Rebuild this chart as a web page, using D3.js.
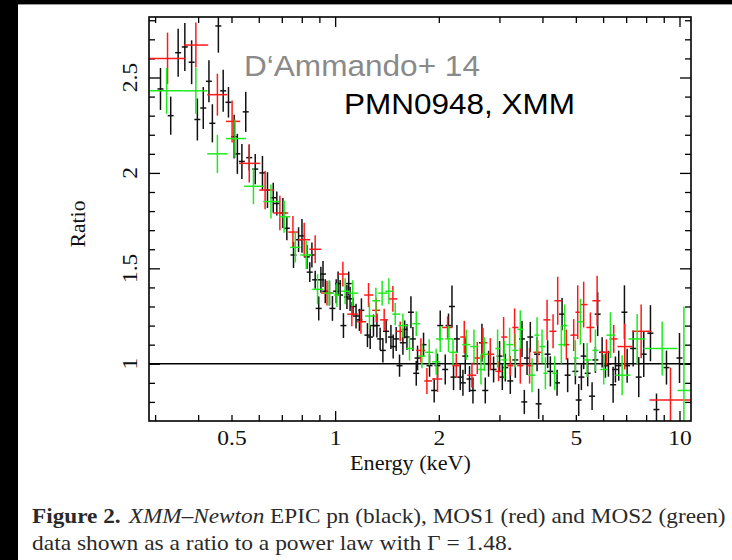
<!DOCTYPE html>
<html>
<head>
<meta charset="utf-8">
<script src="https://cdn.jsdelivr.net/npm/d3@7"></script>
<style>
  html, body { margin: 0; padding: 0; background: #fff; }
  svg { display: block; }
</style>
</head>
<body>
<svg id="chart" width="732" height="560"></svg>
<script>
// EPIC pn (black): bin centre energy (keV), data/model ratio, 1-sigma error
const pnEnergy = [0.311,0.333,0.350,0.366,0.383,0.398,0.414,0.430,0.440,0.458,0.473,0.490,0.509,0.520,0.536,0.550,0.563,0.586,0.615,0.636,0.661,0.677,0.705,0.724,0.757,0.783,0.801,0.828,0.856,0.844,0.875,0.896,0.909,0.922,0.936,0.963,0.982,1.007,1.020,1.034,1.057,1.082,1.095,1.105,1.127,1.150,1.176,1.192,1.241,1.264,1.292,1.322,1.351,1.376,1.406,1.452,1.474,1.504,1.538,1.573,1.592,1.616,1.660,1.682,1.720,1.735,1.806,1.880,1.939,1.983,2.019,2.088,2.134,2.184,2.207,2.258,2.308,2.350,2.387,2.456,2.513,2.669,2.729,2.790,2.885,3.003,3.058,3.120,3.226,3.336,3.489,3.543,3.608,3.688,3.858,3.899,4.141,4.217,4.411,4.560,4.734,4.985,5.097,5.189,5.269,5.413,5.574,5.699,5.787,5.961,6.094,6.218,6.416,6.516,6.661,6.920,7.047,7.335,7.615,7.875,8.236,8.574,9.167,10.00];
const pnRatio = [2.44,2.30,2.63,2.66,2.58,2.28,2.34,2.48,2.26,2.77,2.43,2.37,2.19,2.10,2.06,2.32,2.08,2.02,2.00,1.91,1.87,1.84,1.79,1.71,1.57,1.65,1.67,1.56,1.57,1.48,1.44,1.29,1.44,1.47,1.38,1.37,1.29,1.38,1.42,1.36,1.20,1.35,1.42,1.34,1.30,1.25,1.23,1.28,1.15,1.14,1.20,1.20,1.13,1.07,1.17,1.14,1.09,1.13,0.99,1.11,1.18,1.14,1.27,1.13,0.95,1.03,1.10,0.99,0.86,0.99,1.20,0.97,1.20,1.30,0.93,1.13,0.93,0.90,1.04,0.92,0.86,1.11,0.86,1.00,0.97,1.04,0.93,0.98,0.91,1.02,1.13,0.80,1.03,1.14,1.05,0.79,1.05,0.96,0.90,1.26,0.94,0.96,0.81,0.93,1.04,0.95,0.83,1.02,1.26,1.06,0.99,1.00,0.89,0.97,0.99,1.27,0.99,1.08,0.93,1.05,1.16,0.76,0.98,1.03];
const pnError = [0.11,0.10,0.126,0.126,0.115,0.11,0.11,0.11,0.10,0.14,0.11,0.08,0.115,0.105,0.092,0.105,0.068,0.079,0.089,0.094,0.079,0.063,0.079,0.063,0.068,0.065,0.089,0.063,0.065,0.052,0.047,0.063,0.068,0.068,0.063,0.063,0.065,0.063,0.063,0.079,0.065,0.063,0.063,0.063,0.047,0.065,0.058,0.063,0.063,0.063,0.058,0.063,0.058,0.063,0.063,0.063,0.063,0.063,0.058,0.063,0.047,0.068,0.084,0.063,0.065,0.065,0.063,0.058,0.063,0.063,0.079,0.079,0.063,0.11,0.068,0.073,0.068,0.068,0.094,0.068,0.068,0.10,0.068,0.068,0.068,0.079,0.068,0.073,0.068,0.094,0.094,0.063,0.089,0.079,0.089,0.079,0.073,0.079,0.068,0.084,0.089,0.068,0.084,0.068,0.068,0.068,0.073,0.068,0.115,0.079,0.063,0.068,0.094,0.068,0.079,0.141,0.089,0.094,0.105,0.12,0.147,0.084,0.089,0.131];
// pn channels are narrow: half-width as a fraction of the bin energy
const pnHalfWidth = 0.02;

// MOS1 (red): bin centre, bin edges (keV), ratio, error
const mos1Energy = [0.326,0.394,0.455,0.502,0.563,0.626,0.691,0.754,0.813,0.875,0.947,1.053,1.118,1.188,1.250,1.316,1.388,1.471,1.545,1.774,1.847,1.983,2.121,2.248,2.371,2.496,2.587,2.687,2.822,2.983,3.085,3.226,3.320,3.449,3.670,3.873,4.125,4.294,4.429,4.693,4.929,5.063,5.269,5.511,5.765,6.135,6.442,6.934,7.738,9.415];
const mos1Low = [0.288,0.364,0.425,0.482,0.526,0.602,0.661,0.731,0.781,0.841,0.911,1.014,1.084,1.158,1.214,1.281,1.351,1.425,1.504,1.720,1.814,1.913,2.046,2.188,2.308,2.419,2.535,2.639,2.766,2.918,3.037,3.162,3.269,3.381,3.590,3.763,4.024,4.189,4.332,4.600,4.821,4.985,5.154,5.365,5.586,5.893,6.259,6.603,7.300,8.181];
const mos1High = [0.366,0.428,0.486,0.530,0.606,0.665,0.731,0.781,0.846,0.911,0.987,1.091,1.166,1.230,1.290,1.351,1.425,1.514,1.587,1.826,1.913,2.046,2.188,2.308,2.419,2.569,2.639,2.766,2.899,3.058,3.162,3.291,3.404,3.519,3.763,3.970,4.217,4.390,4.538,4.788,5.052,5.189,5.401,5.661,5.893,6.301,6.603,7.300,8.291,10.76];
const mos1Ratio = [2.60,2.67,2.41,2.27,2.05,1.91,1.79,1.69,1.65,1.60,1.37,1.47,1.26,1.22,1.36,1.28,1.23,1.34,1.17,1.07,0.91,0.92,1.19,0.99,1.14,0.94,1.03,1.11,1.05,0.96,1.14,0.99,1.19,0.99,0.99,1.06,1.23,1.17,1.33,1.10,1.15,1.27,1.31,1.19,1.33,1.06,1.13,1.09,1.17,0.81];
const mos1Error = [0.135,0.118,0.11,0.11,0.10,0.10,0.09,0.084,0.089,0.073,0.065,0.065,0.063,0.063,0.063,0.063,0.058,0.068,0.052,0.063,0.068,0.068,0.058,0.063,0.085,0.065,0.084,0.079,0.084,0.052,0.105,0.052,0.10,0.094,0.094,0.063,0.105,0.089,0.126,0.079,0.084,0.141,0.12,0.079,0.131,0.068,0.073,0.12,0.141,0.17];

// MOS2 (green): bin centre, bin edges (keV), ratio, error
const mos2Energy = [0.324,0.394,0.455,0.512,0.579,0.651,0.711,0.766,0.824,0.889,0.961,1.012,1.069,1.125,1.258,1.313,1.369,1.432,1.494,1.573,1.644,1.720,1.786,1.876,1.965,2.019,2.134,2.199,2.403,2.530,2.651,2.711,2.963,3.099,3.211,3.336,3.449,3.730,3.858,3.989,4.079,4.341,4.538,4.640,4.985,5.154,5.391,5.699,6.025,6.301,6.814,7.534,8.907,10.30];
const mos2Low = [0.288,0.362,0.425,0.482,0.544,0.618,0.688,0.740,0.792,0.858,0.923,0.993,1.041,1.091,1.222,1.281,1.334,1.397,1.465,1.525,1.608,1.675,1.742,1.826,1.913,1.965,2.088,2.145,2.339,2.468,2.604,2.657,2.918,3.037,3.141,3.269,3.381,3.639,3.789,3.918,4.024,4.274,4.448,4.569,4.919,5.052,5.258,5.586,5.893,6.135,6.513,7.108,7.858,9.867];
const mos2High = [0.362,0.425,0.486,0.551,0.622,0.688,0.740,0.792,0.858,0.923,0.993,1.034,1.105,1.166,1.307,1.351,1.416,1.474,1.545,1.630,1.686,1.766,1.826,1.926,2.019,2.060,2.203,2.263,2.468,2.604,2.711,2.784,3.017,3.162,3.291,3.404,3.519,3.814,3.918,4.080,4.135,4.419,4.630,4.724,5.085,5.258,5.548,5.816,6.180,6.513,7.203,7.965,9.867,10.83];
const mos2Ratio = [2.43,2.43,2.10,2.18,1.93,1.85,1.77,1.61,1.57,1.39,1.37,1.36,1.38,1.37,1.25,1.33,1.37,1.38,1.26,1.20,1.08,1.21,1.04,1.06,1.01,1.13,1.13,1.06,1.10,1.09,0.97,1.05,1.08,1.02,1.10,1.07,1.18,0.94,1.15,1.09,0.95,0.95,1.10,1.20,1.03,1.22,1.02,1.07,0.97,1.15,0.94,1.13,1.08,0.86];
const mos2Error = [0.12,0.12,0.10,0.10,0.094,0.089,0.084,0.079,0.073,0.079,0.068,0.063,0.068,0.068,0.068,0.068,0.065,0.068,0.058,0.063,0.063,0.065,0.063,0.068,0.068,0.068,0.068,0.068,0.079,0.089,0.079,0.089,0.10,0.10,0.089,0.089,0.10,0.089,0.094,0.089,0.084,0.089,0.10,0.11,0.094,0.12,0.089,0.11,0.079,0.12,0.105,0.131,0.141,0.44];

// Axis ticks
const xDecadeTicks = [1, 10];
const xMinorTicks = [0.3,0.4,0.5,0.6,0.7,0.8,0.9,2,3,4,5,6,7,8,9];
const xTickLabels = [0.5, 1, 2, 5, 10];
const yMajorTicks = [1, 1.5, 2, 2.5];
const yMinorTicks = [0.8,0.9,1.1,1.2,1.3,1.4,1.6,1.7,1.8,1.9,2.1,2.2,2.3,2.4,2.6,2.7,2.8];
const yTickLabels = [1, 1.5, 2, 2.5];

const svg = d3.select("#chart");
const W = 732, H = 560;
const plot = { left: 149, right: 691, top: 17, bottom: 421 };

const x = d3.scaleLog().domain([0.288, 10.8]).range([plot.left, plot.right]);
const y = d3.scaleLinear().domain([0.70, 2.817]).range([plot.bottom, plot.top]);

const serif = "'Liberation Serif', 'Times New Roman', serif";
const sans = "'Liberation Sans', Arial, Helvetica, sans-serif";
const glyphStretch = 1.12; // the typeset figure uses slightly wide lettering

// widen a text element placed at (px, py) so that its run spans the given width
function fitText(sel, px, py, width, rotate) {
  const w = sel.node().getBBox().width;
  const k = width / w;
  sel.attr("x", 0).attr("y", 0)
     .attr("transform", `translate(${px},${py})${rotate ? ` rotate(${rotate})` : ""} scale(${k},1)`);
  return sel;
}

// page edge: dark band at top and left
svg.append("rect").attr("x", 0).attr("y", 0).attr("width", W).attr("height", H).attr("fill", "#fff");
svg.append("rect").attr("x", 0).attr("y", 0).attr("width", W).attr("height", 4).attr("fill", "#000");
svg.append("rect").attr("x", 0).attr("y", 0).attr("width", 18).attr("height", H).attr("fill", "#000");
svg.append("line").attr("x1", 18).attr("x2", W).attr("y1", 4.5).attr("y2", 4.5)
  .attr("stroke", "#9a9a9a").attr("stroke-width", 1);

svg.append("clipPath").attr("id", "plotclip").append("rect")
  .attr("x", plot.left).attr("y", plot.top)
  .attr("width", plot.right - plot.left).attr("height", plot.bottom - plot.top);

// tick marks on all four sides, pointing inward
function tickAxis(axisFn, scale, values, size, transform) {
  const g = svg.append("g").attr("transform", transform)
    .call(axisFn(scale).tickValues(values).tickSize(-size).tickFormat(""));
  g.select(".domain").remove();
  g.selectAll(".tick line").attr("stroke", "#000").attr("stroke-width", 1.3);
  return g;
}
tickAxis(d3.axisBottom, x, xDecadeTicks, 10, `translate(0,${plot.bottom})`);
tickAxis(d3.axisBottom, x, xMinorTicks, 6, `translate(0,${plot.bottom})`);
tickAxis(d3.axisTop, x, xDecadeTicks, 10, `translate(0,${plot.top})`);
tickAxis(d3.axisTop, x, xMinorTicks, 6, `translate(0,${plot.top})`);
tickAxis(d3.axisLeft, y, yMajorTicks, 11, `translate(${plot.left},0)`);
tickAxis(d3.axisLeft, y, yMinorTicks, 6, `translate(${plot.left},0)`);
tickAxis(d3.axisRight, y, yMajorTicks, 11, `translate(${plot.right},0)`);
tickAxis(d3.axisRight, y, yMinorTicks, 6, `translate(${plot.right},0)`);

// x tick labels
const xl = svg.append("g").attr("transform", `translate(0,${plot.bottom})`)
  .call(d3.axisBottom(x).tickValues(xTickLabels).tickSize(0).tickPadding(9).tickFormat(d3.format("~g")));
xl.select(".domain").remove();
xl.selectAll("text").attr("font-family", serif).attr("font-size", 21).attr("fill", "#111")
  .attr("transform", `scale(${glyphStretch},1)`);

// y tick labels, rotated
svg.append("g").selectAll("text").data(yTickLabels).join("text")
  .attr("transform", d => `translate(137,${y(d)}) rotate(-90) scale(${glyphStretch},1)`)
  .attr("text-anchor", "middle")
  .attr("font-family", serif).attr("font-size", 21).attr("fill", "#111")
  .text(d => d3.format("~g")(d));

// axis titles
fitText(svg.append("text").attr("text-anchor", "middle")
  .attr("font-family", serif).attr("font-size", 21).attr("fill", "#111").text("Energy (keV)"),
  410.5, 470, 121);
fitText(svg.append("text").attr("text-anchor", "middle")
  .attr("font-family", serif).attr("font-size", 21).attr("fill", "#111").text("Ratio"),
  85, 224, 47, -90);

// data
const dataLayer = svg.append("g").attr("clip-path", "url(#plotclip)");

// unity reference line
dataLayer.append("line")
  .attr("x1", plot.left).attr("x2", plot.right).attr("y1", y(1)).attr("y2", y(1))
  .attr("stroke", "#000").attr("stroke-width", 1.6);

function drawCrosses(rows, color, width) {
  const g = dataLayer.append("g").attr("stroke", color).attr("stroke-width", width).attr("fill", "none");
  g.selectAll("line.h").data(rows).join("line").attr("class", "h")
    .attr("x1", d => x(d.lo)).attr("x2", d => x(d.hi))
    .attr("y1", d => y(d.r)).attr("y2", d => y(d.r));
  g.selectAll("line.v").data(rows).join("line").attr("class", "v")
    .attr("x1", d => x(d.e)).attr("x2", d => x(d.e))
    .attr("y1", d => y(d.r - d.err)).attr("y2", d => y(d.r + d.err));
}

const pnRows = pnEnergy.map((e, i) => ({
  e, lo: e * (1 - pnHalfWidth), hi: e * (1 + pnHalfWidth), r: pnRatio[i], err: pnError[i]
}));
const mos1Rows = mos1Energy.map((e, i) => ({
  e, lo: mos1Low[i], hi: mos1High[i], r: mos1Ratio[i], err: mos1Error[i]
}));
const mos2Rows = mos2Energy.map((e, i) => ({
  e, lo: mos2Low[i], hi: mos2High[i], r: mos2Ratio[i], err: mos2Error[i]
}));

drawCrosses(pnRows, "#111", 1.5);
drawCrosses(mos1Rows, "#ff1a1a", 1.5);
drawCrosses(mos2Rows, "#1eea1e", 1.5);

// frame
svg.append("rect")
  .attr("x", plot.left).attr("y", plot.top)
  .attr("width", plot.right - plot.left).attr("height", plot.bottom - plot.top)
  .attr("fill", "none").attr("stroke", "#000").attr("stroke-width", 1.6);

// annotations
fitText(svg.append("text")
  .attr("font-family", sans).attr("font-size", 29.5).attr("fill", "#8a8a8a")
  .text("D\u2018Ammando+ 14"), 244, 76, 236);
fitText(svg.append("text")
  .attr("font-family", sans).attr("font-size", 29.5).attr("fill", "#000")
  .text("PMN0948, XMM"), 344, 114, 231);

// caption
const cap1 = svg.append("text")
  .attr("font-family", serif).attr("font-size", 20).attr("fill", "#2a2a2a");
cap1.append("tspan").attr("font-weight", "bold").text("Figure 2.");
cap1.append("tspan").attr("dx", 7).attr("font-style", "italic").text("XMM\u2013Newton");
cap1.append("tspan").text(" EPIC pn (black), MOS1 (red) and MOS2 (green)");
fitText(cap1, 32, 522.5, 694);

fitText(svg.append("text")
  .attr("font-family", serif).attr("font-size", 20).attr("fill", "#2a2a2a")
  .text("data shown as a ratio to a power law with \u0393 = 1.48."), 32, 550, 481);
</script>
</body>
</html>
